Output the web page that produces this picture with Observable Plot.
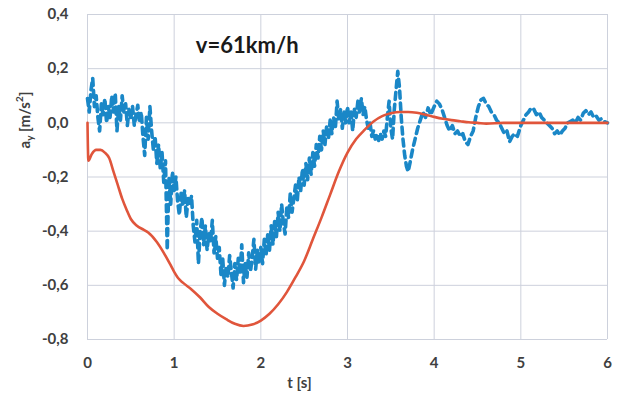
<!DOCTYPE html>
<html><head><meta charset="utf-8">
<script src="https://cdn.jsdelivr.net/npm/d3@7"></script>
<script src="https://cdn.jsdelivr.net/npm/@observablehq/plot@0.6"></script>
<style>body{margin:0;background:#fff;}</style>
</head><body><div id="chart"></div>
<script>
const xTicks = [0, 1, 2, 3, 4, 5, 6];
const yTicks = [-0.8, -0.6, -0.4, -0.2, 0.0, 0.2, 0.4];
const annotation = [{t: 1.25, y: 0.285, label: "v=61km/h"}];
const xTitle = "t [s]";

// simulated (smooth) series
const redSeries = [
  [0, 0.0], [0.01, -0.14], [0.05, -0.115], [0.1, -0.1], [0.15, -0.1], [0.2, -0.11], [0.25, -0.13],
  [0.3, -0.18], [0.35, -0.23], [0.4, -0.28], [0.45, -0.32], [0.5, -0.355], [0.57, -0.38],
  [0.65, -0.395], [0.7, -0.405], [0.8, -0.44], [0.88, -0.48], [0.95, -0.52], [1.0, -0.55],
  [1.05, -0.575], [1.1, -0.59], [1.2, -0.615], [1.3, -0.645], [1.4, -0.68], [1.5, -0.705],
  [1.6, -0.725], [1.7, -0.742], [1.8, -0.75], [1.9, -0.745], [2.0, -0.73], [2.1, -0.705],
  [2.2, -0.67], [2.3, -0.625], [2.4, -0.57], [2.5, -0.51], [2.6, -0.43], [2.7, -0.35],
  [2.8, -0.265], [2.9, -0.18], [3.0, -0.11], [3.1, -0.06], [3.2, -0.025], [3.3, 0.005],
  [3.4, 0.025], [3.5, 0.035], [3.6, 0.04], [3.7, 0.04], [3.8, 0.037], [3.9, 0.03], [4.0, 0.022],
  [4.1, 0.015], [4.2, 0.01], [4.3, 0.006], [4.4, 0.002], [4.5, 0.0], [4.6, -0.003], [4.8, 0.0],
  [5.0, 0.0], [5.5, 0.0], [6.0, 0.0]
];

// measured (noisy) series
const blueSeries = [
  [0.00, 0.09], [0.02, 0.04], [0.04, 0.12], [0.06, 0.165], [0.08, 0.06], [0.10, 0.10], [0.12, 0.02],
  [0.14, -0.03], [0.16, 0.07], [0.18, 0.03], [0.20, 0.09], [0.22, 0.00], [0.24, 0.06], [0.26, 0.02],
  [0.28, 0.10], [0.30, 0.04], [0.32, 0.11], [0.34, -0.03], [0.36, 0.06], [0.38, 0.01], [0.40, 0.10],
  [0.42, 0.04], [0.44, 0.07], [0.46, -0.01], [0.48, 0.05], [0.50, 0.02], [0.52, 0.06], [0.54, -0.01],
  [0.56, 0.03], [0.58, 0.065], [0.60, 0.00], [0.62, 0.04], [0.64, -0.05], [0.66, -0.12], [0.68, 0.02],
  [0.70, -0.06], [0.72, 0.06], [0.74, -0.03], [0.76, -0.10], [0.78, -0.05], [0.80, -0.15], [0.82, -0.08],
  [0.84, -0.17], [0.86, -0.11], [0.88, -0.22], [0.90, -0.14], [0.92, -0.47], [0.94, -0.20], [0.96, -0.30],
  [0.98, -0.18], [1.00, -0.25], [1.02, -0.20], [1.04, -0.29], [1.06, -0.34], [1.08, -0.26], [1.10, -0.30],
  [1.12, -0.25], [1.14, -0.35], [1.16, -0.28], [1.18, -0.30], [1.20, -0.27], [1.22, -0.38], [1.24, -0.44],
  [1.26, -0.36], [1.28, -0.52], [1.30, -0.40], [1.32, -0.35], [1.34, -0.45], [1.36, -0.38], [1.38, -0.47],
  [1.40, -0.41], [1.42, -0.44], [1.44, -0.36], [1.46, -0.48], [1.48, -0.42], [1.50, -0.50], [1.52, -0.46],
  [1.54, -0.56], [1.56, -0.50], [1.58, -0.60], [1.60, -0.53], [1.62, -0.57], [1.64, -0.49], [1.66, -0.55],
  [1.68, -0.61], [1.70, -0.52], [1.72, -0.58], [1.74, -0.50], [1.76, -0.56], [1.78, -0.45], [1.80, -0.59],
  [1.82, -0.52], [1.84, -0.57], [1.86, -0.48], [1.88, -0.55], [1.90, -0.50], [1.92, -0.43], [1.94, -0.54],
  [1.96, -0.47], [1.98, -0.52], [2.00, -0.46], [2.02, -0.52], [2.04, -0.43], [2.06, -0.49], [2.08, -0.41],
  [2.10, -0.47], [2.12, -0.38], [2.14, -0.45], [2.16, -0.36], [2.18, -0.42], [2.20, -0.33], [2.22, -0.40],
  [2.24, -0.30], [2.26, -0.37], [2.28, -0.41], [2.30, -0.31], [2.32, -0.35], [2.34, -0.26], [2.36, -0.33],
  [2.38, -0.28], [2.40, -0.23], [2.42, -0.29], [2.44, -0.20], [2.46, -0.25], [2.48, -0.17], [2.50, -0.23],
  [2.52, -0.15], [2.54, -0.21], [2.56, -0.13], [2.58, -0.19], [2.60, -0.11], [2.62, -0.16], [2.64, -0.08],
  [2.66, -0.13], [2.68, -0.05], [2.70, -0.10], [2.72, -0.03], [2.74, -0.08], [2.76, -0.01], [2.78, -0.06],
  [2.80, 0.01], [2.82, -0.04], [2.84, 0.02], [2.86, -0.02], [2.88, 0.08], [2.90, 0.01], [2.92, 0.05],
  [2.94, -0.02], [2.96, 0.04], [2.98, 0.00], [3.00, 0.06], [3.02, 0.00], [3.04, 0.04], [3.06, -0.03],
  [3.08, 0.05], [3.10, 0.02], [3.12, 0.08], [3.14, 0.04], [3.16, 0.09], [3.18, 0.03], [3.20, 0.06],
  [3.22, 0.01], [3.24, -0.02], [3.26, 0.00], [3.28, -0.05], [3.30, -0.03], [3.32, -0.06], [3.34, -0.04],
  [3.36, -0.065], [3.38, -0.04], [3.40, -0.06], [3.42, -0.03], [3.44, -0.05], [3.46, 0.02], [3.48, 0.08],
  [3.50, -0.02], [3.52, -0.06], [3.54, 0.05], [3.56, 0.12], [3.58, 0.19], [3.60, 0.13], [3.62, 0.02],
  [3.64, -0.06], [3.66, -0.12], [3.68, -0.16], [3.70, -0.18], [3.72, -0.15], [3.75, -0.10], [3.78, -0.06],
  [3.81, -0.02], [3.84, 0.01], [3.87, 0.04], [3.90, 0.02], [3.93, 0.055], [3.96, 0.03], [4.00, 0.06],
  [4.03, 0.08], [4.06, 0.07], [4.09, 0.05], [4.12, 0.02], [4.15, -0.01], [4.18, -0.03], [4.21, -0.01],
  [4.24, -0.04], [4.27, -0.03], [4.30, -0.05], [4.33, -0.04], [4.36, -0.07], [4.39, -0.08], [4.42, -0.05],
  [4.45, -0.03], [4.48, 0.02], [4.51, 0.06], [4.54, 0.085], [4.57, 0.09], [4.60, 0.07], [4.63, 0.06],
  [4.66, 0.04], [4.69, 0.03], [4.72, 0.01], [4.75, 0.00], [4.78, -0.02], [4.81, -0.04], [4.84, -0.03],
  [4.87, -0.07], [4.90, -0.05], [4.93, -0.04], [4.96, -0.05], [5.00, -0.01], [5.03, 0.01], [5.06, 0.03],
  [5.09, 0.04], [5.12, 0.055], [5.15, 0.05], [5.18, 0.03], [5.21, 0.04], [5.24, 0.02], [5.27, 0.01],
  [5.30, 0.00], [5.33, -0.01], [5.36, -0.02], [5.39, -0.04], [5.42, -0.03], [5.45, -0.045], [5.48, -0.03],
  [5.51, -0.02], [5.54, 0.00], [5.57, 0.005], [5.60, 0.01], [5.63, 0.00], [5.66, 0.02], [5.69, 0.01],
  [5.72, 0.035], [5.75, 0.045], [5.78, 0.03], [5.81, 0.04], [5.84, 0.02], [5.87, 0.025], [5.90, 0.01],
  [5.93, 0.015], [5.96, 0.005], [6.00, 0.0]
];

const fmtY = d => d3.format(".1f")(d).replace(".", ",").replace("\u2212", "-");
const gridColor = "#cdd1dc";
const textColor = "#404040";

const chart = Plot.plot({
  width: 618, height: 401,
  marginLeft: 87, marginRight: 11, marginTop: 14, marginBottom: 62,
  style: {fontFamily: "Lato, 'Open Sans', sans-serif", background: "#fff"},
  x: {domain: [0, 6]},
  y: {domain: [-0.8, 0.4]},
  marks: [
    Plot.ruleX(xTicks, {stroke: gridColor, strokeWidth: 1}),
    Plot.ruleY(yTicks, {stroke: gridColor, strokeWidth: 1}),
    Plot.axisY(yTicks, {tickSize: 0, tickPadding: 19, tickFormat: fmtY, fontSize: 15, fontWeight: "bold", fill: textColor, label: null}),
    Plot.axisX(xTicks, {tickSize: 0, tickPadding: 18, tickFormat: d => String(d), fontSize: 15, fontWeight: "bold", fill: textColor, label: null}),
    Plot.line(blueSeries, {x: d => d[0], y: d => d[1], stroke: "#1a87c7", strokeWidth: 3.6, strokeDasharray: "7,5"}),
    Plot.line(redSeries, {x: d => d[0], y: d => d[1], stroke: "#e0553b", strokeWidth: 2.6, curve: "monotone-x"}),
    Plot.text(annotation, {x: "t", y: "y", text: "label", textAnchor: "start", fontSize: 22, fontWeight: "bold", fill: "#1a1a1a"}),
    Plot.text([xTitle], {frameAnchor: "bottom", dx: -48, dy: 48, fontSize: 15, fontWeight: "bold", fill: textColor})
  ]
});

// y-axis title with subscript and superscript
const svg = d3.select(chart);
const yt = svg.append("text")
  .attr("transform", "translate(26,120) rotate(-90)")
  .attr("text-anchor", "middle")
  .attr("dominant-baseline", "middle")
  .attr("font-size", 15).attr("font-weight", "bold").attr("fill", textColor)
  .attr("font-family", "Lato, 'Open Sans', sans-serif");
yt.append("tspan").text("a");
yt.append("tspan").attr("font-size", 10).attr("dy", 4).text("y");
yt.append("tspan").attr("dy", -4).text(" [m/s");
yt.append("tspan").attr("font-size", 10).attr("dy", -6).text("2");
yt.append("tspan").attr("dy", 6).text("]");

document.getElementById("chart").appendChild(chart);
</script>
</body></html>
